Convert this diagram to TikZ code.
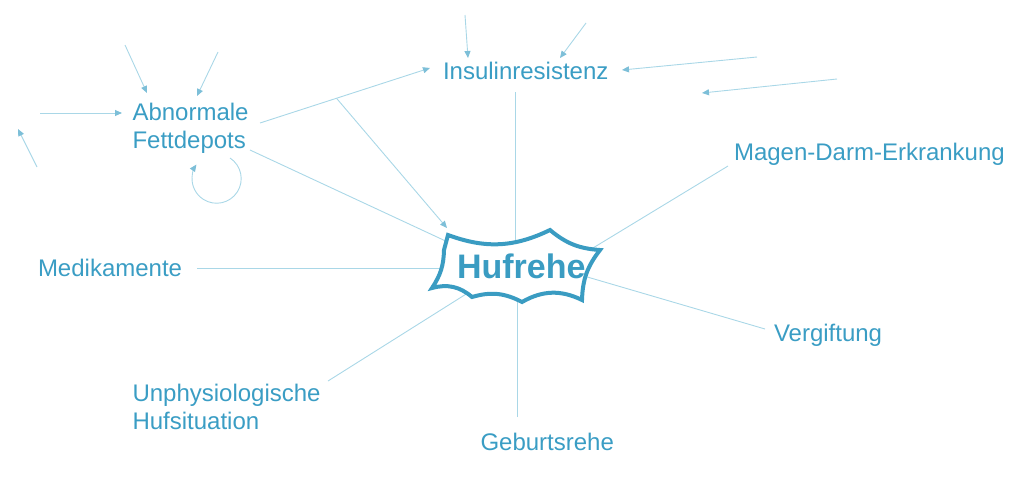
\documentclass[tikz,border=0pt]{standalone}
\usepackage{fontspec}
\setmainfont{Liberation Sans}
\usetikzlibrary{arrows.meta}
\definecolor{txt}{HTML}{3A9DC4}
\definecolor{ln}{HTML}{A9D7E7}
\definecolor{tipc}{HTML}{7DBFD8}
\definecolor{shp}{HTML}{3A9CC2}
\pgfdeclarelayer{bg}
\pgfsetlayers{bg,main}
\begin{document}
\begin{tikzpicture}[x=1pt,y=-1pt,
  lbl/.style={inner sep=0pt,outer sep=0pt,text=txt,font=\fontsize{24}{28}\selectfont,anchor=base west},
  conn/.style={draw=ln,line width=0.9pt},
  arr/.style={conn,-{Triangle[length=7pt,width=6pt,color=tipc]}},
  hufshape/.style={draw=shp,fill=white,line width=4pt,line join=miter,miter limit=6}
]
\path[use as bounding box] (0,0) rectangle (1030,483);

% labels
\node[lbl] (ins) at (443,79) {Insulinresistenz};
\node[lbl,align=left] (fett) at (132.5,148) {Abnormale\\Fettdepots};
\node[lbl] (magen) at (734,160.5) {Magen-Darm-Erkrankung};
\node[lbl] (medi) at (38,276) {Medikamente};
\node[lbl] (verg) at (774,341.5) {Vergiftung};
\node[lbl,align=left] (unph) at (132.5,429) {Unphysiologische\\Hufsituation};
\node[lbl] (geb) at (480.5,450.5) {Geburtsrehe};

% central shape
\path[hufshape] (448,235) to[bend right=23] (550,230) to[bend right=18] (600,250)
  to[bend right=18] (582,300) to[bend right=28] (522,302) to[bend right=22] (472,297)
  to[bend right=28] (432,288) to[bend right=16] (444,250) -- cycle;
\node[lbl,text=shp,font=\fontsize{34}{40}\selectfont\bfseries] (huf) at (457,278) {Hufrehe};

% free ends
\coordinate (f1) at (125,45);
\coordinate (f2) at (218,52);
\coordinate (f3) at (40,113);
\coordinate (f4a) at (37,167);
\coordinate (f4b) at (18,129);
\coordinate (i1) at (465,15);
\coordinate (i2) at (586,23);
\coordinate (i3) at (757,57);
\coordinate (i4a) at (837,79);
\coordinate (i4b) at (702,93);

\begin{pgfonlayer}{bg}
% connectors to Hufrehe
\draw[conn] ([shift={(72,13)}]ins.base west) -- ([shift={(58,-20)}]huf.base west);
\draw[conn] ([shift={(117.5,2)}]fett.base west) -- ([shift={(23,-21)}]huf.base west);
\draw[conn] ([shift={(159,-8)}]medi.base west) -- ([shift={(13,-10)}]huf.base west);
\draw[conn] ([shift={(-6,5.5)}]magen.base west) -- ([shift={(103,-10)}]huf.base west);
\draw[conn] ([shift={(-9,-12.5)}]verg.base west) -- ([shift={(103,-9)}]huf.base west);
\draw[conn] ([shift={(195.5,-48)}]unph.base west) -- ([shift={(33,1)}]huf.base west);
\draw[conn] ([shift={(36.5,-33.5)}]geb.base west) -- ([shift={(60,2)}]huf.base west);
% Fettdepots -> Insulinresistenz and interaction
\draw[arr] ([shift={(127.5,-25)}]fett.base west) -- coordinate[pos=0.45] (mid) ([shift={(-13,-11)}]ins.base west);
\draw[arr] (mid) -- ([shift={(-10,-50)}]huf.base west);
% arrows into Fettdepots
\draw[arr] (f1) -- ([shift={(14.5,-55)}]fett.base west);
\draw[arr] (f2) -- ([shift={(64.5,-52)}]fett.base west);
\draw[arr] (f3) -- ([shift={(-10.5,-35)}]fett.base west);
\draw[arr] (f4a) -- (f4b);
\draw[arr] ([shift={(97.5,10)}]fett.base west) arc[start angle=-57, end angle=215, radius=24.6];
% arrows into Insulinresistenz
\draw[arr] (i1) -- ([shift={(25,-21)}]ins.base west);
\draw[arr] (i2) -- ([shift={(117,-21)}]ins.base west);
\draw[arr] (i3) -- ([shift={(179,-9)}]ins.base west);
\draw[arr] (i4a) -- (i4b);
\end{pgfonlayer}
\end{tikzpicture}
\end{document}
